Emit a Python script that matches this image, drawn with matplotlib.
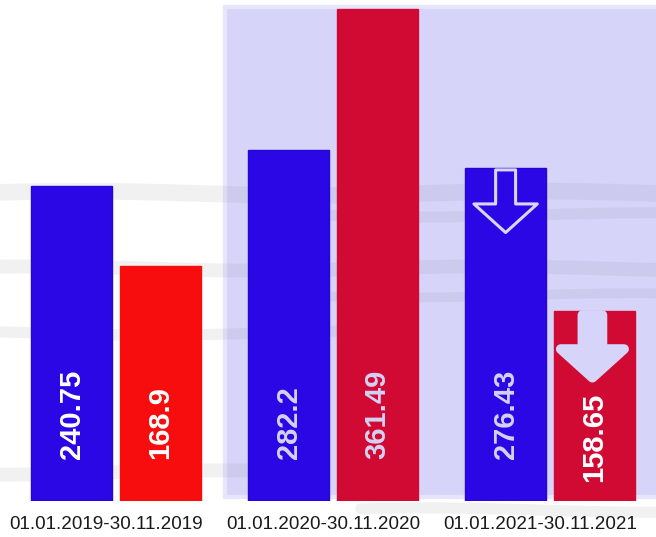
import matplotlib
matplotlib.use("Agg")
import matplotlib.pyplot as plt
from matplotlib.patches import Rectangle, Polygon
import numpy as np

plt.rcParams['font.family'] = ['Liberation Sans', 'DejaVu Sans']

# periods on the x axis
periods = ["01.01.2019-30.11.2019", "01.01.2020-30.11.2020", "01.01.2021-30.11.2021"]
# printed values on the bars
blue_values = [240.75, 282.2, 276.43]
red_values = [168.9, 361.49, 158.65]
# bar heights as drawn in the picture (same units, the artwork is not to scale)
blue_heights = [231.4, 257.9, 244.7]
red_heights = [172.7, 361.5, 139.6]

BLUE = '#2b07e6'
RED_OLD = '#f70d0d'
RED = '#d10a34'
LAVENDER = '#d6d4f9'


def down_arrow(ax, xc, ytop, filled, color):
    # simple down arrow hanging from ytop (data units)
    sw, hw = 0.046, 0.146
    s_top, h_start, tip = ytop, ytop - 25, ytop - 46
    pts = [(xc - sw, s_top), (xc + sw, s_top), (xc + sw, h_start),
           (xc + hw, h_start), (xc, tip), (xc - hw, h_start), (xc - sw, h_start)]
    if filled:
        poly = Polygon(pts, closed=True, facecolor=color, edgecolor=color,
                       linewidth=7, joinstyle='round', zorder=4)
    else:
        poly = Polygon(pts, closed=True, facecolor='none', edgecolor=color,
                       linewidth=2.2, joinstyle='round', zorder=4)
    ax.add_patch(poly)


def brush(ax, fig):
    # faint grey brush strokes of the backdrop
    bands = [(0.64, 0.0, 1.0, 12), (0.60, 0.4, 1.0, 8), (0.50, 0.0, 1.0, 10),
             (0.45, 0.45, 1.0, 7), (0.38, 0.0, 0.55, 8), (0.12, 0.0, 0.45, 10),
             (0.05, 0.55, 1.0, 8)]
    for y, x0, x1, lw in bands:
        xs = np.linspace(x0, x1, 40)
        ys = y + 0.004 * np.sin(xs * 9 + y * 40)
        ax.plot(xs, ys, transform=fig.transFigure, color='#8e8e9c', alpha=0.12,
                linewidth=lw, solid_capstyle='round', zorder=1, clip_on=False)


def main():
    fig = plt.figure(figsize=(6.56, 5.37), dpi=100)
    ax = fig.add_axes([0, 36 / 537, 1, 501 / 537])
    ax.set_xlim(-0.535, 2.488)
    ax.set_ylim(0, 368)
    ax.axis('off')

    # shaded area behind the last two periods
    ax.add_patch(Rectangle((0.5, 3), 2.1, 360, facecolor=LAVENDER,
                           edgecolor='#e6e5fc', linewidth=3, zorder=0))
    brush(ax, fig)

    x = np.arange(len(periods))
    w = 0.37
    off = 0.205
    red_colors = [RED_OLD, RED, RED]

    ax.bar(x - off, blue_heights, width=w, color=BLUE, edgecolor='#2506d6',
           linewidth=1, zorder=2)
    ax.bar(x + off, red_heights, width=w, color=red_colors, edgecolor=red_colors,
           linewidth=1, zorder=2)

    text_colors = ['white', '#d4d2f6', '#d4d2f6']
    for i in range(len(periods)):
        ax.text(x[i] - off, 31, f"{blue_values[i]:g}", rotation=90, ha='center',
                va='bottom', fontsize=21, fontweight='bold', color=text_colors[i], zorder=3)
        base = 14 if i == 2 else 31
        col = 'white' if i == 2 else text_colors[i]
        ax.text(x[i] + off, base, f"{red_values[i]:g}", rotation=90, ha='center',
                va='bottom', fontsize=21, fontweight='bold', color=col, zorder=3)
        ax.text(x[i] - 0.045, -17, periods[i], ha='center', va='center', fontsize=13.6,
                color='#1a1a1a', clip_on=False)

    # decreasing markers on the last period
    down_arrow(ax, x[2] - off, blue_heights[2] - 1.5, False, '#d8d6fa')
    down_arrow(ax, x[2] + off - 0.01, red_heights[2] - 3, True, '#d6d4f9')

    fig.savefig("out.png", dpi=100)


if __name__ == '__main__':
    main()
